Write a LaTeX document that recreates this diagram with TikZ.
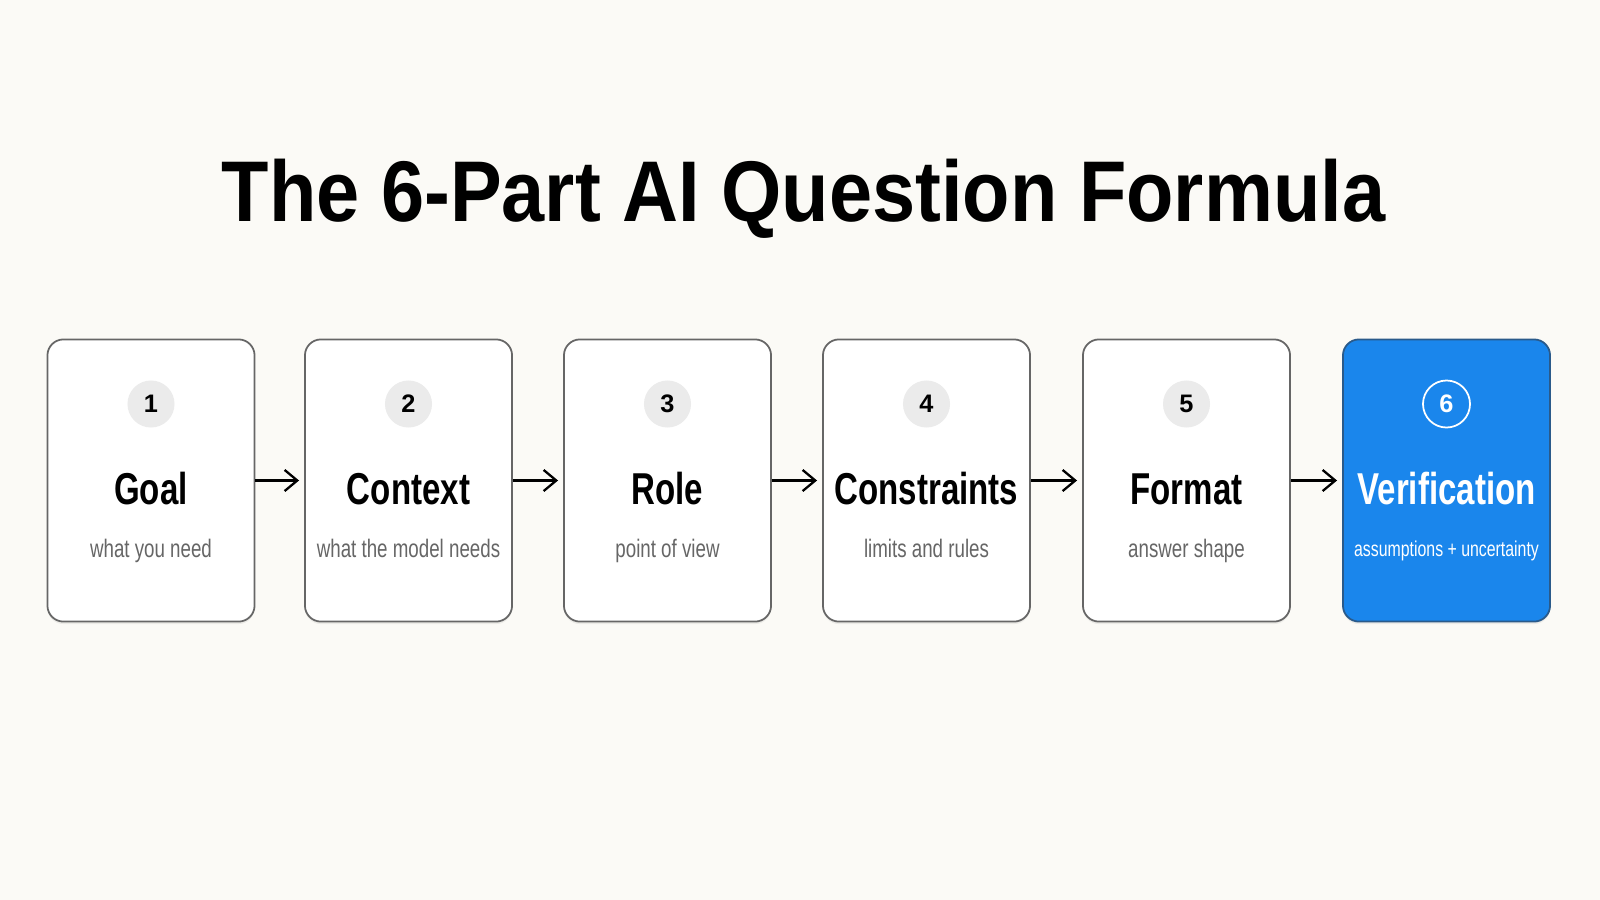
\documentclass[tikz,border=0pt]{standalone}
\usepackage{fontspec}
\setmainfont{Liberation Sans}
\newfontfamily\headfont[FakeStretch=0.9]{Liberation Sans}
\newfontfamily\narrowfont[FakeStretch=0.74]{Liberation Sans}
\usetikzlibrary{arrows.meta,shadows}
\definecolor{paper}{HTML}{FBFAF6}
\definecolor{cardline}{HTML}{666666}
\definecolor{badgegray}{HTML}{EBEBEB}
\definecolor{subgray}{HTML}{666666}
\definecolor{verblue}{HTML}{1A86EC}
\definecolor{verline}{HTML}{2A5A8A}

\begin{document}
\begin{tikzpicture}[x=0.01cm, y=0.01cm]
        \tikzstyle{every node}+=[inner sep=0pt]
        \tikzstyle{card}=[draw=cardline, fill=white, line width=0.5pt, rounded corners=0.16cm, minimum width=2.07cm, minimum height=2.82cm, drop shadow={shadow xshift=0pt, shadow yshift=-0.7pt, opacity=0.12}]
        \tikzstyle{badge}=[circle, fill=badgegray, minimum size=0.47cm, font=\fontsize{7.2}{8}\selectfont\bfseries]
        \tikzstyle{label}=[anchor=base, font=\narrowfont\fontsize{12.7}{14}\selectfont\bfseries]
        \tikzstyle{sub}=[anchor=base, text=subgray, font=\narrowfont\fontsize{7.2}{8}\selectfont]
        \tikzstyle{link}=[black, line width=0.65pt, -{Straight Barb[length=3.6pt,width=6pt]}, shorten >=0.05cm]
        \fill [paper] (0,0) rectangle (1600,-900);
        \node [anchor=base, font=\headfont\fontsize{24.5}{28}\selectfont\bfseries] (title) at (803.5,-221) {The 6-Part AI Question Formula};
        \node [card] (goal) at (151,-480.5) {};
        \node [badge] (n1) at (151,-404) {1};
        \node [label] (goalname) at (151,-504) {Goal};
        \node [sub] (goaltext) at (151,-557) {what you need};
        \node [card] (context) at (408.5,-480.5) {};
        \node [badge] (n2) at (408.5,-404) {2};
        \node [label] (contextname) at (408.5,-504) {Context};
        \node [sub] (contexttext) at (408.5,-557) {what the model needs};
        \node [card] (role) at (667.5,-480.5) {};
        \node [badge] (n3) at (667.5,-404) {3};
        \node [label] (rolename) at (667.5,-504) {Role};
        \node [sub] (roletext) at (667.5,-557) {point of view};
        \node [card] (constraints) at (926.5,-480.5) {};
        \node [badge] (n4) at (926.5,-404) {4};
        \node [label] (constraintsname) at (926.5,-504) {Constraints};
        \node [sub] (constraintstext) at (926.5,-557) {limits and rules};
        \node [card] (format) at (1186.5,-480.5) {};
        \node [badge] (n5) at (1186.5,-404) {5};
        \node [label] (formatname) at (1186.5,-504) {Format};
        \node [sub] (formattext) at (1186.5,-557) {answer shape};
        \node [card, fill=verblue, draw=verline] (verification) at (1446.5,-480.5) {};
        \node [badge, fill=none, draw=white, line width=0.5pt, text=white] (n6) at (1446.5,-404) {6};
        \node [label, text=white] (verificationname) at (1446.5,-504) {Verification};
        \node [sub, text=white, font=\narrowfont\fontsize{6.1}{7}\selectfont] (verificationtext) at (1446.5,-556) {assumptions + uncertainty};
        \draw [link] (goal) -- (context);
        \draw [link] (context) -- (role);
        \draw [link] (role) -- (constraints);
        \draw [link] (constraints) -- (format);
        \draw [link] (format) -- (verification);
\end{tikzpicture}
\end{document}
